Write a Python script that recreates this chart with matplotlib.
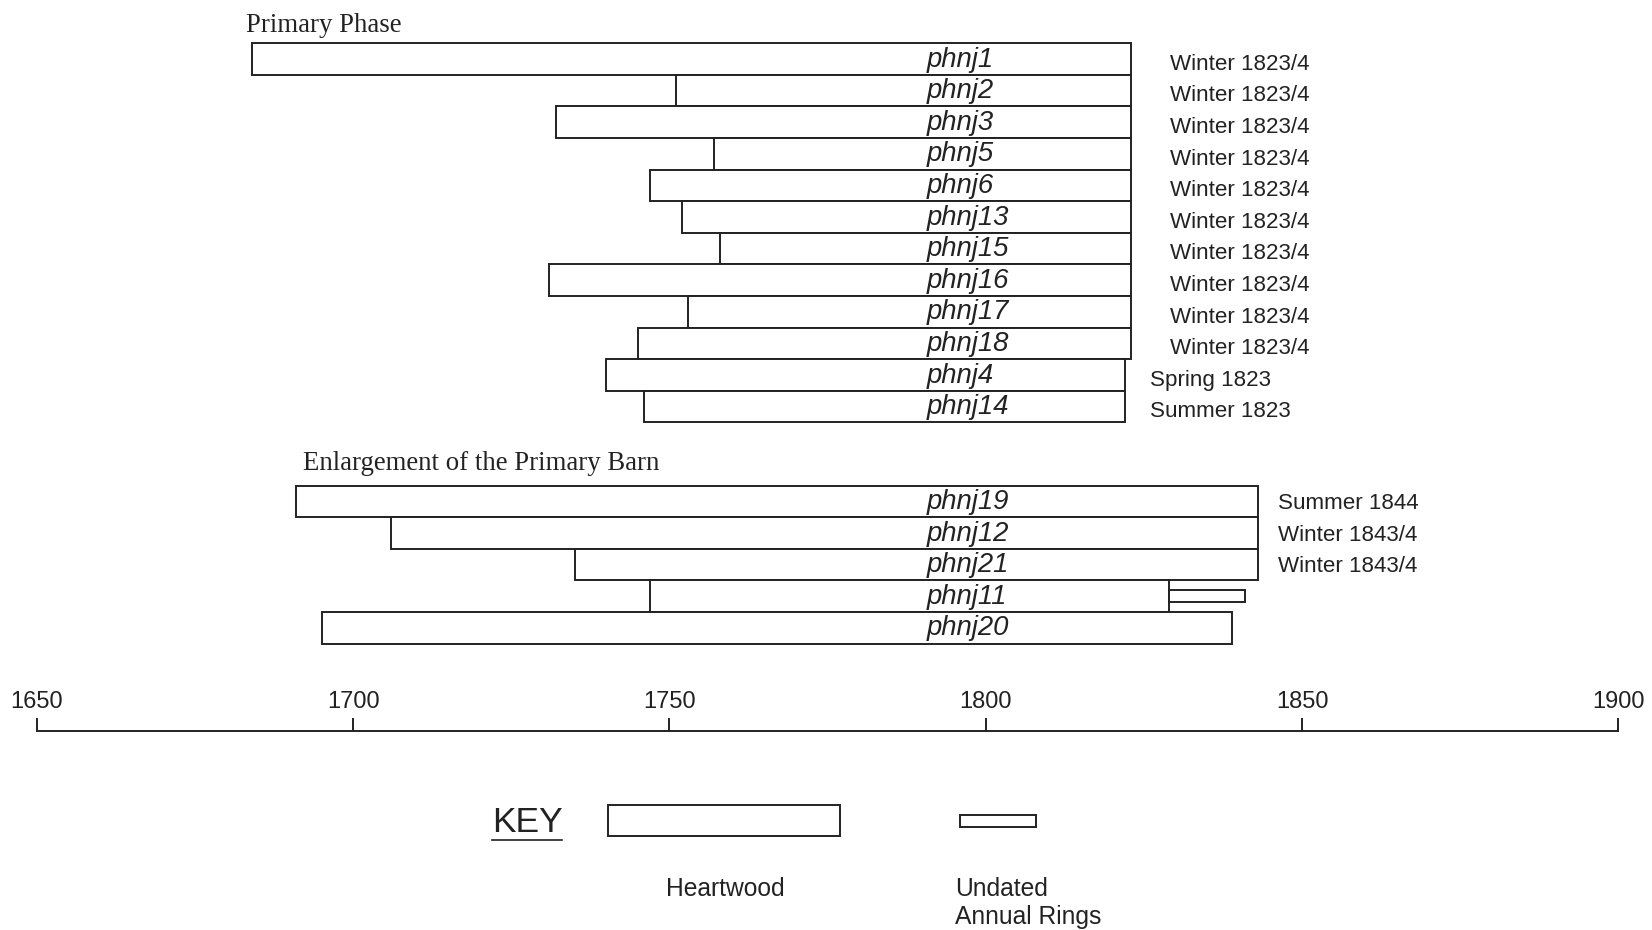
import matplotlib.pyplot as plt
from matplotlib.patches import Rectangle

# Dados: amostras de madeira (ano inicial, ano final do cerne)
fase1_nomes = ['phnj1', 'phnj2', 'phnj3', 'phnj5', 'phnj6', 'phnj13', 'phnj15',
               'phnj16', 'phnj17', 'phnj18', 'phnj4', 'phnj14']
fase1_inicio = [1684, 1751, 1732, 1757, 1747, 1752, 1758, 1731, 1753, 1745, 1740, 1746]
fase1_fim = [1823, 1823, 1823, 1823, 1823, 1823, 1823, 1823, 1823, 1823, 1822, 1822]
fase1_datas = ['Winter 1823/4'] * 10 + ['Spring 1823', 'Summer 1823']

fase2_nomes = ['phnj19', 'phnj12', 'phnj21', 'phnj11', 'phnj20']
fase2_inicio = [1691, 1706, 1735, 1747, 1695]
fase2_fim = [1843, 1843, 1843, 1829, 1839]
fase2_datas = ['Summer 1844', 'Winter 1843/4', 'Winter 1843/4', '', '']

# aneis nao datados (amostra, inicio, fim)
aneis_amostra = ['phnj11']
aneis_inicio = [1829]
aneis_fim = [1841]

anos_escala = [1650, 1700, 1750, 1800, 1850, 1900]

W, H = 1652, 930
x0_px, px_ano = 36.9, 6.3256
y0_px, px_linha = 59.0, 31.6

fig = plt.figure(figsize=(W / 100, H / 100), dpi=100)
ax = fig.add_axes([0, 0, 1, 1])
ax.set_xlim(1650 - x0_px / px_ano, 1650 + (W - x0_px) / px_ano)
ax.set_ylim((H - y0_px) / px_linha, -y0_px / px_linha)
ax.axis('off')

cor = '#222222'
lw = 1.4
sans = 'Liberation Sans'
serif = 'Liberation Serif'

linhas1 = list(range(len(fase1_nomes)))
linhas2 = [14 + i for i in range(len(fase2_nomes))]

ax.barh(linhas1, [f - i for i, f in zip(fase1_inicio, fase1_fim)], left=fase1_inicio,
        height=1.0, color='white', edgecolor=cor, linewidth=lw)
ax.barh(linhas2, [f - i for i, f in zip(fase2_inicio, fase2_fim)], left=fase2_inicio,
        height=1.0, color='white', edgecolor=cor, linewidth=lw)

# aneis nao datados
for nome, a, b in zip(aneis_amostra, aneis_inicio, aneis_fim):
    y = linhas2[fase2_nomes.index(nome)]
    ax.barh(y, b - a, left=a, height=0.38, color='white', edgecolor=cor, linewidth=lw)

# nomes das amostras
for y, nome in zip(linhas1 + linhas2, fase1_nomes + fase2_nomes):
    ax.text(1790.7, y + 0.02, nome, family=sans, style='italic', fontsize=19.8,
            ha='left', va='center', color=cor)

# datas de corte
for y, d, f in zip(linhas1, fase1_datas, fase1_fim):
    x = 1829.2 if f == 1823 else 1826.0
    ax.text(x, y + 0.17, d, family=sans, fontsize=16.1, ha='left', va='center', color=cor)
for y, d in zip(linhas2, fase2_datas):
    ax.text(1846.2, y + 0.07, d, family=sans, fontsize=16.1, ha='left', va='center', color=cor)

# titulos dos grupos
ax.text(1683.1, -1.07, 'Primary Phase', family=serif, fontsize=19.3, ha='left', va='center', color=cor)
ax.text(1692.0, 12.81, 'Enlargement of the Primary Barn', family=serif, fontsize=19.3,
        ha='left', va='center', color=cor)

# escala de anos
ax_esc = fig.add_axes([x0_px / W, 1 - 731 / H, 250 * px_ano / W, 13 / H])
ax_esc.set_xlim(1650, 1900)
ax_esc.set_ylim(0, 1)
for s in ['top', 'left', 'right']:
    ax_esc.spines[s].set_visible(False)
ax_esc.spines['bottom'].set_color(cor)
ax_esc.spines['bottom'].set_linewidth(lw)
ax_esc.set_yticks([])
ax_esc.set_xticks(anos_escala)
ax_esc.set_xticklabels([str(a) for a in anos_escala], family=sans, fontsize=17, color=cor)
ax_esc.tick_params(axis='x', direction='in', length=9.4, width=lw, color=cor,
                   bottom=True, top=False, labelbottom=False, labeltop=True, pad=3.5)
ax_esc.patch.set_visible(False)

# legenda
key = ax.text(1721.9, 24.17, 'KEY', family=sans, fontsize=25.5, ha='left', va='center', color=cor)
ax.add_patch(Rectangle((1740.3, 23.6), 36.6, 1.0, facecolor='white', edgecolor=cor, linewidth=lw))
ax.add_patch(Rectangle((1795.9, 24.12 - 0.19), 12.0, 0.38, facecolor='white', edgecolor=cor, linewidth=lw))
ax.text(1749.4, 26.27, 'Heartwood', family=sans, fontsize=17.7, ha='left', va='center', color=cor)
ax.text(1795.2, 26.27, 'Undated', family=sans, fontsize=17.7, ha='left', va='center', color=cor)
ax.text(1795.2, 27.14, 'Annual Rings', family=sans, fontsize=17.7, ha='left', va='center', color=cor)

# sublinhado do KEY
fig.canvas.draw()
bb = key.get_window_extent().transformed(ax.transData.inverted())
ax.plot([bb.x0, bb.x1], [24.72, 24.72], color=cor, linewidth=1.2)

fig.savefig('out.png', dpi=100)
